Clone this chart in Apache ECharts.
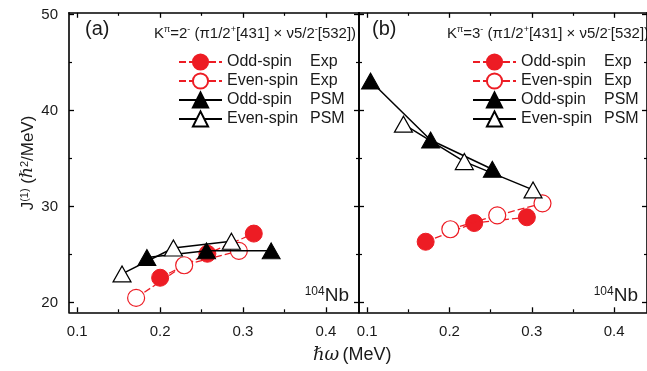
<!DOCTYPE html>
<html>
<head>
<meta charset="utf-8">
<script src="https://cdn.jsdelivr.net/npm/echarts@6/dist/echarts.min.js"></script>
<style>
html,body{margin:0;padding:0;background:#fff;}
#c{width:647px;height:371px;}
</style>
</head>
<body>
<div id="c"></div>
<script>
// ---- data ----
const xTicks = [0.1, 0.2, 0.3, 0.4];
const xMinorTicks = [0.15, 0.25, 0.35];
const yTicks = [20, 30, 40, 50];
const yMinorTicks = [25, 35, 45];
const seriesNames = ['Odd-spin Exp', 'Even-spin Exp', 'Odd-spin PSM', 'Even-spin PSM'];

// panel (a)
const omegaOddExpA = [0.200, 0.257, 0.313];
const jOddExpA = [22.6, 25.1, 27.2];
const omegaEvenExpA = [0.171, 0.229, 0.295];
const jEvenExpA = [20.5, 23.9, 25.4];
const omegaOddPsmA = [0.184, 0.256, 0.334];
const jOddPsmA = [24.7, 25.4, 25.4];
const omegaEvenPsmA = [0.154, 0.216, 0.286];
const jEvenPsmA = [23.0, 25.7, 26.4];

// panel (b)
const omegaOddExpB = [0.171, 0.230, 0.294];
const jOddExpB = [26.35, 28.3, 28.9];
const omegaEvenExpB = [0.201, 0.258, 0.313];
const jEvenExpB = [27.65, 29.1, 30.35];
const omegaOddPsmB = [0.104, 0.177, 0.252];
const jOddPsmB = [43.1, 36.95, 33.9];
const omegaEvenPsmB = [0.144, 0.218, 0.3015];
const jEvenPsmB = [38.6, 34.7, 31.75];

// ---- chart ----
const RED = '#ed1c24';
const FONT = 'Liberation Sans, Arial, sans-serif';
const XMIN = 0.09, XMAX = 0.44, YMIN = 19, YMAX = 50.2;

function pairs(xs, ys) { return xs.map((x, i) => [x, ys[i]]); }

const grids = [
  { left: 69, top: 12.8, width: 290, height: 299.5 },
  { left: 359, top: 12.8, width: 290, height: 299.5 }
];

const xAxes = [], yAxes = [];
grids.forEach((g, gi) => {
  const base = { type: 'value', gridIndex: gi, min: XMIN, max: XMAX, splitLine: { show: false } };
  xAxes.push(Object.assign({}, base, {
    position: 'bottom',
    axisLine: { show: true, onZero: false, lineStyle: { color: '#000', width: 1.6 } },
    axisTick: { show: true, inside: true, length: 5, customValues: xTicks, lineStyle: { color: '#000', width: 1.3 } },
    axisLabel: { show: true, customValues: xTicks, margin: 12, fontSize: 15, color: '#1a1a1a', fontFamily: FONT }
  }));
  xAxes.push(Object.assign({}, base, {
    position: 'bottom',
    axisLine: { show: false, onZero: false },
    axisTick: { show: true, inside: true, length: 3, customValues: xMinorTicks, lineStyle: { color: '#000', width: 1.2 } },
    axisLabel: { show: false }
  }));
  xAxes.push(Object.assign({}, base, {
    position: 'top',
    axisLine: { show: true, onZero: false, lineStyle: { color: '#000', width: 1.6 } },
    axisTick: { show: true, inside: true, length: 5, customValues: xTicks, lineStyle: { color: '#000', width: 1.3 } },
    axisLabel: { show: false }
  }));
  xAxes.push(Object.assign({}, base, {
    position: 'top',
    axisLine: { show: false, onZero: false },
    axisTick: { show: true, inside: true, length: 3, customValues: xMinorTicks, lineStyle: { color: '#000', width: 1.2 } },
    axisLabel: { show: false }
  }));

  const ybase = { type: 'value', gridIndex: gi, min: YMIN, max: YMAX, splitLine: { show: false } };
  yAxes.push(Object.assign({}, ybase, {
    position: 'left',
    axisLine: { show: true, onZero: false, lineStyle: { color: '#000', width: 1.6 } },
    axisTick: { show: true, inside: true, length: 5, customValues: yTicks, lineStyle: { color: '#000', width: 1.3 } },
    axisLabel: { show: gi === 0, customValues: yTicks, margin: 11, fontSize: 15, color: '#1a1a1a', fontFamily: FONT }
  }));
  yAxes.push(Object.assign({}, ybase, {
    position: 'left',
    axisLine: { show: false, onZero: false },
    axisTick: { show: true, inside: true, length: 3, customValues: yMinorTicks, lineStyle: { color: '#000', width: 1.2 } },
    axisLabel: { show: false }
  }));
  yAxes.push(Object.assign({}, ybase, {
    position: 'right',
    axisLine: { show: true, onZero: false, lineStyle: { color: '#000', width: 1.6 } },
    axisTick: { show: true, inside: true, length: 5, customValues: yTicks, lineStyle: { color: '#000', width: 1.3 } },
    axisLabel: { show: false }
  }));
  yAxes.push(Object.assign({}, ybase, {
    position: 'right',
    axisLine: { show: false, onZero: false },
    axisTick: { show: true, inside: true, length: 3, customValues: yMinorTicks, lineStyle: { color: '#000', width: 1.2 } },
    axisLabel: { show: false }
  }));
});

const styles = [
  { symbol: 'circle', symbolSize: 17, itemStyle: { color: RED, borderColor: RED, borderWidth: 1 },
    lineStyle: { color: RED, width: 1.3, type: [7, 3] } },
  { symbol: 'circle', symbolSize: 17, itemStyle: { color: '#fff', borderColor: RED, borderWidth: 1.2 },
    lineStyle: { color: RED, width: 1.3, type: [7, 3] } },
  { symbol: 'triangle', symbolSize: [18, 16], itemStyle: { color: '#000', borderColor: '#000', borderWidth: 1 },
    lineStyle: { color: '#000', width: 1.5 } },
  { symbol: 'triangle', symbolSize: [18, 16], itemStyle: { color: '#fff', borderColor: '#000', borderWidth: 1.2 },
    lineStyle: { color: '#000', width: 1.5 } }
];

const panelData = [
  [pairs(omegaOddExpA, jOddExpA), pairs(omegaEvenExpA, jEvenExpA), pairs(omegaOddPsmA, jOddPsmA), pairs(omegaEvenPsmA, jEvenPsmA)],
  [pairs(omegaOddExpB, jOddExpB), pairs(omegaEvenExpB, jEvenExpB), pairs(omegaOddPsmB, jOddPsmB), pairs(omegaEvenPsmB, jEvenPsmB)]
];

const series = [];
panelData.forEach((sets, gi) => {
  sets.forEach((d, si) => {
    series.push(Object.assign({
      type: 'line', name: seriesNames[si], data: d,
      xAxisIndex: gi * 4, yAxisIndex: gi * 4,
      showAllSymbol: true, silent: true, z: 2 + si,
      emphasis: { disabled: true }
    }, JSON.parse(JSON.stringify(styles[si]))));
  });
});

function legendAt(left) {
  return {
    data: seriesNames, left: left, top: 52.5, orient: 'vertical', padding: 0,
    itemWidth: 43, itemHeight: 19, itemGap: 0, selectedMode: false,
    textStyle: {
      fontSize: 16, color: '#1a1a1a', fontFamily: FONT, lineHeight: 19,
      rich: { n: { width: 83, fontSize: 16, fontFamily: FONT, color: '#1a1a1a', lineHeight: 19 },
              e: { fontSize: 16, fontFamily: FONT, color: '#1a1a1a', lineHeight: 19 } }
    },
    formatter: function (name) { const p = name.split(' '); return '{n|' + p[0] + '}{e|' + p[1] + '}'; }
  };
}

const supRich = {
  b: { fontSize: 15, fontFamily: FONT, fill: '#1a1a1a', lineHeight: 17 },
  s: { fontSize: 9, fontFamily: FONT, fill: '#1a1a1a', verticalAlign: 'top', lineHeight: 17 }
};
function kTitle(k) {
  return '{b|K}{s|π}{b|=' + k + '}{s|-}{b| (π1/2}{s|+}{b|[431] × ν5/2}{s|-}{b|[532])}';
}
const nbRich = {
  b: { fontSize: 19, fontFamily: FONT, fill: '#1a1a1a', lineHeight: 20 },
  s: { fontSize: 12, fontFamily: FONT, fill: '#1a1a1a', verticalAlign: 'top', lineHeight: 20 }
};

const graphics = [
  { type: 'text', left: 85, top: 19, style: { text: '(a)', fontSize: 20, fontFamily: FONT, fill: '#1a1a1a' } },
  { type: 'text', left: 372, top: 19, style: { text: '(b)', fontSize: 20, fontFamily: FONT, fill: '#1a1a1a' } },
  { type: 'text', left: 154, top: 25, style: { text: kTitle('2'), rich: supRich } },
  { type: 'text', left: 447, top: 25, style: { text: kTitle('3'), rich: supRich } },
  { type: 'text', right: 298, top: 286, style: { text: '{s|104}{b|Nb}', rich: nbRich } },
  { type: 'text', right: 9, top: 286, style: { text: '{s|104}{b|Nb}', rich: nbRich } },
  { type: 'text', left: 313, top: 346, style: {
      text: '{i|ℏω} {b|(MeV)}',
      rich: { i: { fontSize: 18, fontFamily: 'DejaVu Serif, serif', fontStyle: 'italic', fill: '#1a1a1a' },
              b: { fontSize: 18, fontFamily: FONT, fill: '#1a1a1a' } } } },
  { type: 'text', x: 28, y: 163, rotation: Math.PI / 2, style: {
      text: '{b|J}{s|(1)}{b| (}{i|ℏ}{s|2}{b|/MeV)}',
      align: 'center', verticalAlign: 'middle',
      rich: { b: { fontSize: 17, fontFamily: FONT, fill: '#1a1a1a', lineHeight: 18 },
              i: { fontSize: 17, fontFamily: 'DejaVu Serif, serif', fontStyle: 'italic', fill: '#1a1a1a', lineHeight: 18 },
              s: { fontSize: 11, fontFamily: FONT, fill: '#1a1a1a', verticalAlign: 'top', lineHeight: 18 } } } }
];

const chart = echarts.init(document.getElementById('c'), null, { renderer: 'canvas' });
chart.setOption({
  animation: false,
  backgroundColor: '#fff',
  grid: grids,
  xAxis: xAxes,
  yAxis: yAxes,
  legend: [legendAt(178), legendAt(472)],
  series: series,
  graphic: graphics
});
</script>
</body>
</html>
